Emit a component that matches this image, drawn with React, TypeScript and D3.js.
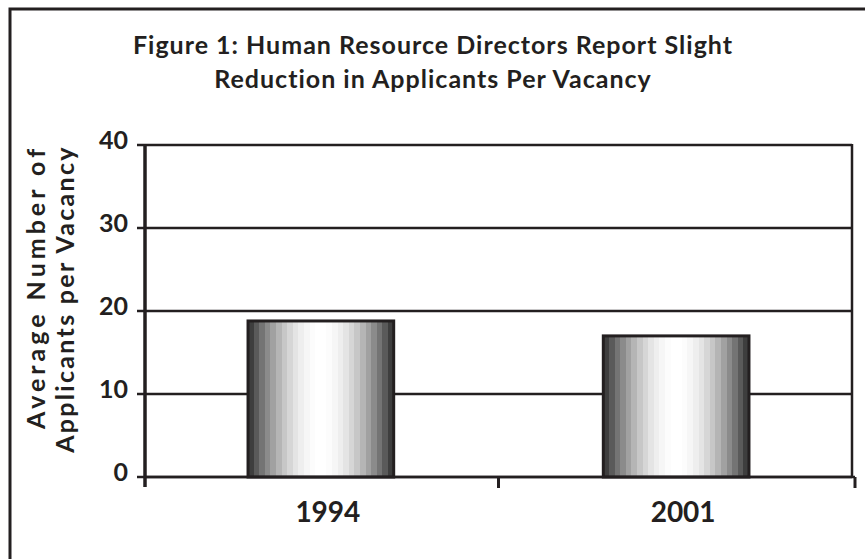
import React from "react";
import * as d3 from "d3";

// chart data
const categories = ["1994", "2001"];
const applicantsPerVacancy = [18.8, 17.0];
const yTicks = [0, 10, 20, 30, 40];
const titleLines = [
  "Figure 1: Human Resource Directors Report Slight",
  "Reduction in Applicants Per Vacancy",
];
const yLabelLines = ["Average Number of", "Applicants per Vacancy"];

const W = 865;
const H = 559;
const plot = { left: 145, right: 852, top: 145, bottom: 477 };
const ink = "#231f20";
const font = "Lato, 'Open Sans', sans-serif";

const App = () => {
  const x = d3
    .scaleBand<string>()
    .domain(categories)
    .range([plot.left, plot.right])
    .paddingInner(0.59)
    .paddingOuter(0.29);

  const y = d3.scaleLinear().domain([0, 40]).range([plot.bottom, plot.top]);

  // tick marks sit on the category boundaries
  const edge = d3
    .scaleLinear()
    .domain([0, categories.length])
    .range([plot.left, plot.right]);
  const edgeTicks = d3.range(categories.length + 1).map((i) => edge(i));

  // banded cylinder shading, dark at the sides and white in the middle
  const bands = 26;
  const stops: { offset: number; color: string }[] = [];
  d3.range(bands).forEach((i) => {
    const t = (i + 0.5) / bands;
    const v = Math.round(45 + 210 * Math.pow(Math.sin(Math.PI * t), 0.9));
    const c = d3.rgb(v, v, v).formatHex();
    stops.push({ offset: i / bands, color: c });
    stops.push({ offset: (i + 1) / bands, color: c });
  });

  return (
    <svg
      width={W}
      height={H}
      style={{ position: "absolute", left: 0, top: 0, background: "#fff" }}
    >
      <defs>
        <linearGradient id="cyl" x1="0" x2="1" y1="0" y2="0">
          {stops.map((s, i) => (
            <stop key={i} offset={s.offset} stopColor={s.color} />
          ))}
        </linearGradient>
      </defs>

      {/* outer frame */}
      <path
        d={`M10,${H + 2} L10,9 L${W + 2},9`}
        fill="none"
        stroke={ink}
        strokeWidth={3}
      />

      {/* title */}
      <g
        fontFamily={font}
        fontWeight={700}
        fontSize={25}
        letterSpacing={1}
        fill={ink}
        textAnchor="middle"
      >
        {titleLines.map((t, i) => (
          <text key={i} x={433} y={54 + i * 34}>
            {t}
          </text>
        ))}
      </g>

      {/* y axis title */}
      <g
        transform="rotate(-90)"
        fontFamily={font}
        fontWeight={700}
        fontSize={25}
        fill={ink}
        textAnchor="middle"
      >
        {yLabelLines.map((t, i) => (
          <text
            key={i}
            x={i === 0 ? -287 : -299}
            y={45 + i * 29}
            letterSpacing={i === 0 ? 4 : 2.3}
          >
            {t}
          </text>
        ))}
      </g>

      {/* gridlines */}
      {yTicks.map((t) => (
        <line
          key={t}
          x1={plot.left}
          x2={plot.right}
          y1={y(t)}
          y2={y(t)}
          stroke={ink}
          strokeWidth={2.5}
        />
      ))}

      {/* right border of plot */}
      <line
        x1={plot.right}
        x2={plot.right}
        y1={plot.top - 1}
        y2={plot.bottom}
        stroke={ink}
        strokeWidth={2.5}
      />

      {/* bars */}
      {categories.map((c, i) => (
        <rect
          key={c}
          x={x(c)}
          y={y(applicantsPerVacancy[i])}
          width={x.bandwidth()}
          height={y(0) - y(applicantsPerVacancy[i])}
          fill="url(#cyl)"
          stroke={ink}
          strokeWidth={3}
        />
      ))}

      {/* y axis */}
      <line
        x1={plot.left}
        x2={plot.left}
        y1={plot.top}
        y2={plot.bottom + 10}
        stroke={ink}
        strokeWidth={3.5}
      />
      {yTicks.map((t) => (
        <g key={t}>
          <line
            x1={plot.left - 8}
            x2={plot.left}
            y1={y(t)}
            y2={y(t)}
            stroke={ink}
            strokeWidth={2.5}
          />
          <text
            x={plot.left - 17}
            y={y(t) + 4}
            textAnchor="end"
            fontFamily={font}
            fontWeight={700}
            fontSize={25}
            fill={ink}
          >
            {t}
          </text>
        </g>
      ))}

      {/* x axis */}
      <line
        x1={plot.left}
        x2={plot.right + 3}
        y1={plot.bottom}
        y2={plot.bottom}
        stroke={ink}
        strokeWidth={2.5}
      />
      {edgeTicks.slice(1).map((ex, i) => (
        <line
          key={i}
          x1={i === edgeTicks.length - 2 ? ex + 3 : ex}
          x2={i === edgeTicks.length - 2 ? ex + 3 : ex}
          y1={plot.bottom}
          y2={plot.bottom + 11}
          stroke={ink}
          strokeWidth={3}
        />
      ))}
      {categories.map((c) => (
        <text
          key={c}
          x={(x(c) ?? 0) + x.bandwidth() / 2 + 7}
          y={522}
          textAnchor="middle"
          fontFamily={font}
          fontWeight={700}
          fontSize={28}
          fill={ink}
        >
          {c}
        </text>
      ))}
    </svg>
  );
};

export default App;
